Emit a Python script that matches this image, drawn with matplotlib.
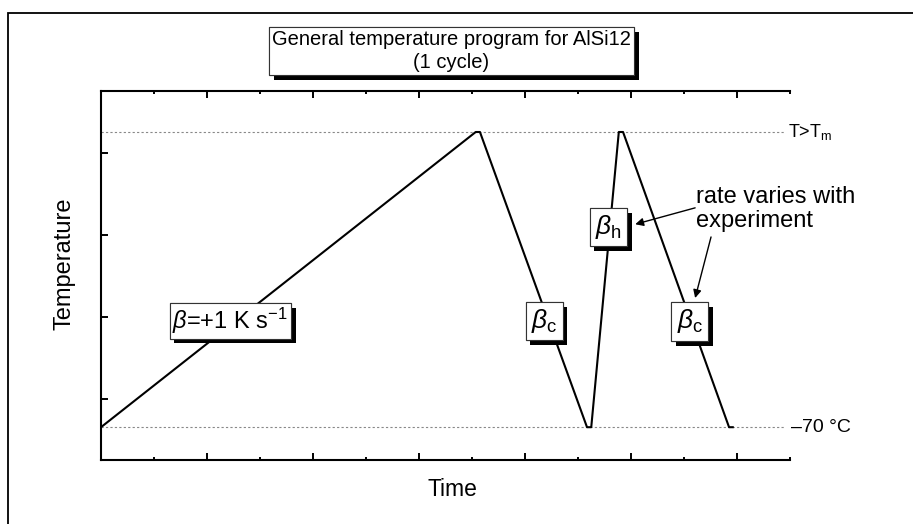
import matplotlib
matplotlib.use('Agg')
import matplotlib.pyplot as plt
import matplotlib.patheffects as pe
from matplotlib.patches import Rectangle
from matplotlib.ticker import MultipleLocator

plt.rcParams['font.family'] = ['Liberation Sans', 'DejaVu Sans']
plt.rcParams['mathtext.fontset'] = 'custom'
plt.rcParams['mathtext.rm'] = 'Liberation Sans'
plt.rcParams['mathtext.it'] = 'Liberation Sans:italic'

# temperature program (time in s, temperature in degC)
time_s = [0, 707, 715, 917, 925, 977, 985, 1185, 1192]
temp_c = [-70, 650, 650, -70, -70, 650, 650, -70, -70]
t_low = -70
t_high = 650

# heating rate label
rate_pos = (244, 190)
rate_text = r'$\beta$=+1 K s$^{{-}1}$'
# segment labels: (x, y, text)
seg_labels = [
    (836, 189, r'$\beta_{\rm c}$'),
    (957, 418, r'$\beta_{\rm h}$'),
    (1111, 188, r'$\beta_{\rm c}$'),
]
# arrows: (tail, head)
arrows = [
    ((1121, 465), (1008, 425)),
    ((1151, 394), (1121, 245)),
]

W, H = 913, 524
fig = plt.figure(figsize=(W / 100, H / 100), dpi=100)
fig.patch.set_facecolor('white')

# outer frame (cut off on the right and bottom)
fig.patches.append(Rectangle((8 / W, -0.1), 1.2, 1 - 13 / H + 0.1, transform=fig.transFigure,
                             fill=False, lw=1.3, ec='k', clip_on=False))

ax = fig.add_axes([101 / W, 1 - 460 / H, 689 / W, 369 / H])
ax.plot(time_s, temp_c, color='k', lw=1.5, zorder=3)
ax.axhline(t_high, xmax=0.993, color='#888888', ls=(0, (2, 2)), lw=0.8, zorder=1)
ax.axhline(t_low, xmax=0.993, color='#888888', ls=(0, (2, 2)), lw=0.8, zorder=1)

ax.set_xlim(0, 1300)
ax.set_ylim(-150, 750)
ax.xaxis.set_major_locator(MultipleLocator(200))
ax.xaxis.set_minor_locator(MultipleLocator(100))
ax.yaxis.set_major_locator(MultipleLocator(200))
ax.tick_params(which='both', direction='in', top=True, right=False,
               labelbottom=False, labelleft=False, width=1.4)
ax.tick_params(which='major', length=5)
ax.tick_params(which='minor', length=2.5)
ax.spines['right'].set_visible(False)
for s in ['left', 'bottom', 'top']:
    ax.spines[s].set_linewidth(1.5)

ax.text(1297, t_high, r'T>T$_{\rm m}$', fontsize=13, ha='left', va='center', clip_on=False)
ax.text(1302, t_low, '\u201370 \u00b0C', fontsize=14, ha='left', va='center', clip_on=False)

shadow = [pe.withSimplePatchShadow(offset=(3.5, -3.5), shadow_rgbFace='k', alpha=1.0), pe.Normal()]
ax.text(rate_pos[0], rate_pos[1], rate_text, fontsize=17, ha='center', va='center', zorder=5,
        bbox=dict(boxstyle='square,pad=0.12', fc='white', ec='#333333', lw=0.8,
                  path_effects=shadow))
for x, y, s in seg_labels:
    ax.text(x, y, s, fontsize=19, ha='center', va='center', zorder=5,
            bbox=dict(boxstyle='square,pad=0.2', fc='white', ec='#333333', lw=0.8,
                      path_effects=shadow))

ax.text(1122, 462, 'rate varies with\nexperiment', fontsize=17, ha='left', va='center',
        linespacing=1.15)
for tail, head in arrows:
    ax.annotate('', xy=head, xytext=tail,
                arrowprops=dict(arrowstyle='-|>', lw=1.0, color='k', mutation_scale=12,
                                shrinkA=0, shrinkB=0))

fig.text(451.5 / W, 1 - 51 / H, 'General temperature program for AlSi12\n(1 cycle)',
         fontsize=14.5, ha='center', va='center', linespacing=1.25,
         bbox=dict(boxstyle='square,pad=0.15', fc='white', ec='#333333', lw=0.8,
                   path_effects=shadow))

fig.text(64 / W, 1 - 264 / H, 'Temperature', fontsize=17, rotation=90, ha='center', va='center')
fig.text(452 / W, 1 - 490 / H, 'Time', fontsize=16.5, ha='center', va='center')

fig.savefig('out.png', dpi=100)
